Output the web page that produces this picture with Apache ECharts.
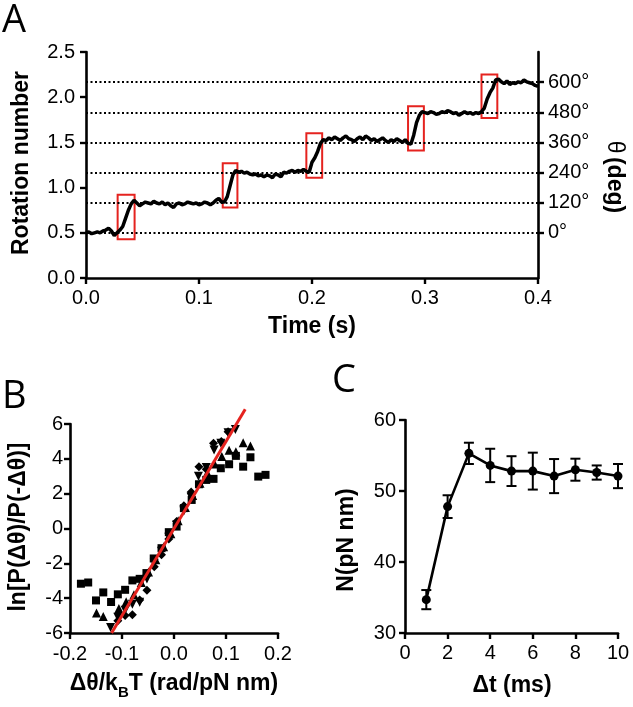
<!DOCTYPE html>
<html><head><meta charset="utf-8">
<script src="https://cdn.jsdelivr.net/npm/echarts@6/dist/echarts.min.js"></script>
<style>html,body{margin:0;padding:0;background:#fff}#c{width:633px;height:707px}</style>
</head><body><div id="c"></div>
<script>
// ---------- Panel A data ----------
const traceStep = 0.0025; // s between samples
const traceRot = [
  0.50,0.51,0.49,0.50,0.51,0.50,0.52,0.53,0.55,0.52,0.47,0.50,0.53,
  0.57,0.66,0.75,0.82,0.86,
  0.83,0.80,0.82,0.84,0.83,0.82,0.85,0.83,0.82,0.84,
  0.81,0.83,0.80,0.78,0.82,0.83,0.81,0.82,0.84,0.83,
  0.82,0.83,0.81,0.82,0.84,0.83,0.81,0.83,0.86,0.88,
  0.84,
  0.84,0.90,1.02,1.14,1.19,
  1.17,1.18,1.16,1.17,1.15,1.14,1.15,1.13,1.14,1.12,
  1.14,1.13,1.11,1.15,1.14,1.12,1.17,1.16,1.18,1.19,
  1.17,1.19,1.18,1.20,1.18,
  1.17,1.28,1.33,1.40,1.49,1.53,
  1.52,1.55,1.53,1.56,1.54,1.52,1.55,1.57,1.54,1.53,
  1.51,1.54,1.56,1.53,1.57,1.55,1.52,1.54,1.51,1.53,
  1.55,1.52,1.50,1.53,1.51,1.54,1.52,1.50,1.53,1.49,
  1.48,1.58,1.72,1.80,1.84,
  1.83,1.82,1.84,1.83,1.81,1.82,1.84,1.83,1.85,1.84,
  1.82,1.83,1.80,1.82,1.84,1.82,1.83,1.81,1.83,1.82,1.84,
  1.88,1.98,2.05,2.10,2.19,
  2.20,2.17,2.15,2.18,2.14,2.16,2.15,2.17,2.16,2.19,2.17,2.16,2.15,2.13,2.12
];
const boxStart = [0.028, 0.121, 0.195, 0.285, 0.350];
const boxEnd   = [0.043, 0.134, 0.209, 0.299, 0.364];
const boxLow   = [0.43, 0.78, 1.11, 1.41, 1.77];
const boxHigh  = [0.92, 1.27, 1.60, 1.90, 2.25];
const thetaTicks = [0, 120, 240, 360, 480, 600];
const rotTicksMax = 2.5;

// ---------- Panel B data ----------
const squares = [[-0.179,-3.17],[-0.165,-3.10],[-0.150,-4.13],[-0.136,-3.67],[-0.121,-4.22],[-0.108,-3.78],
  [-0.094,-3.52],[-0.080,-2.98],[-0.066,-2.89],[-0.053,-2.56],[-0.039,-1.72],[-0.024,-1.13],[-0.010,-0.21],
  [0.005,0.11],[0.019,1.17],[0.034,1.64],[0.048,2.54],[0.062,2.79],[0.076,2.85],[0.090,3.46],[0.106,3.69],
  [0.119,4.17],[0.133,3.55],[0.147,4.09],[0.162,2.98],[0.176,3.08]];
const trianglesUp = [[-0.149,-4.85],[-0.136,-5.05],[-0.106,-4.6],[-0.092,-4.2],[-0.077,-3.8],[-0.063,-3.1],
  [-0.049,-2.5],[-0.035,-1.8],[-0.020,-1.05],[-0.006,-0.3],[0.008,0.45],[0.022,1.2],[0.036,1.9],[0.050,2.6],
  [0.064,3.2],[0.078,3.7],[0.092,4.13],[0.106,4.5],[0.119,4.4],[0.133,4.93],[0.147,4.74]];
const trianglesDown = [[-0.122,-5.68],[-0.108,-5.1],[-0.094,-4.7],[-0.080,-4.35],[-0.066,-4.24],[-0.052,-2.9],
  [-0.038,-2.0],[-0.024,-1.3],[-0.010,-0.5],[0.005,0.2],[0.019,1.0],[0.033,1.8],[0.047,3.0],[0.062,3.5],
  [0.077,4.51],[0.090,4.89],[0.104,5.5],[0.118,5.69]];
const diamonds = [[-0.108,-5.3],[-0.094,-5.0],[-0.080,-4.95],[-0.066,-4.1],[-0.052,-3.55],[-0.038,-2.2],
  [-0.024,-1.5],[-0.010,-0.6],[0.005,0.4],[0.019,1.3],[0.033,2.1],[0.048,3.55],[0.062,3.4],[0.076,4.89],
  [0.091,4.99],[0.104,5.56]];
const fitLine = [[-0.120,-6.0],[0.137,6.85]];

// ---------- Panel C data ----------
const dtMs  = [1, 2, 3, 4, 5, 6, 7, 8, 9, 10];
const nMean = [34.7, 47.8, 55.3, 53.6, 52.8, 52.8, 52.1, 53.0, 52.6, 52.1];
const nErr  = [1.35, 1.6, 1.5, 2.35, 2.1, 2.6, 2.4, 1.55, 1.0, 1.7];

// ---------- styles ----------
const FONT = '"Liberation Sans", Arial, sans-serif';
const AX = {color:'#000', width:2.6};
const tickStyle = {show:true, inside:false, length:6, lineStyle:{color:'#000', width:2.4}};
const lab = (m, fmt) => ({color:'#000', fontFamily:FONT, fontSize:20, margin:m, formatter:fmt});
const RED = '#e5231f';
const markerStyle = {color:'#000', opacity:1};

const chart = echarts.init(document.getElementById('c'), null, {renderer:'canvas'});

const option = {
  animation:false,
  backgroundColor:'#fff',
  grid:[
    {left:86, top:52, width:452, height:226},
    {left:70, top:424, width:208, height:209},
    {left:405, top:420, width:213, height:213}
  ],
  xAxis:[
    {gridIndex:0, type:'value', min:0, max:0.4, interval:0.1, axisLine:{lineStyle:AX}, axisTick:tickStyle,
     splitLine:{show:false}, axisLabel:lab(10, v=>v.toFixed(1))},
    {gridIndex:1, type:'value', min:-0.2, max:0.2, interval:0.1, axisLine:{onZero:false, lineStyle:AX}, axisTick:tickStyle,
     splitLine:{show:false}, axisLabel:lab(11, v=>(Math.abs(v)<1e-9?0:v).toFixed(1))},
    {gridIndex:2, type:'value', min:0, max:10, interval:2, axisLine:{lineStyle:AX}, axisTick:tickStyle,
     splitLine:{show:false}, axisLabel:lab(10)}
  ],
  yAxis:[
    {gridIndex:0, type:'value', min:0, max:rotTicksMax, interval:0.5, position:'left', axisLine:{show:true, lineStyle:AX},
     axisTick:tickStyle, splitLine:{show:false}, axisLabel:lab(11, v=>v.toFixed(1))},
    {gridIndex:0, type:'value', min:-180, max:720, position:'right', axisLine:{show:true, lineStyle:AX},
     axisTick:Object.assign({}, tickStyle, {customValues:thetaTicks}), splitLine:{show:false},
     axisLabel:Object.assign(lab(10, v=>v+'°'), {customValues:thetaTicks})},
    {gridIndex:1, type:'value', min:-6, max:6, interval:2, axisLine:{show:true, onZero:false, lineStyle:AX},
     axisTick:tickStyle, splitLine:{show:false}, axisLabel:lab(7)},
    {gridIndex:2, type:'value', min:30, max:60, interval:10, axisLine:{show:true, lineStyle:AX},
     axisTick:tickStyle, splitLine:{show:false}, axisLabel:lab(9)}
  ],
  series:[
    {type:'line', xAxisIndex:0, yAxisIndex:1, data:[], z:1,
     markLine:{silent:true, symbol:'none', label:{show:false},
       lineStyle:{color:'#000', type:[2,2.5], width:2},
       data:thetaTicks.map(v=>({yAxis:v}))}},
    {type:'line', xAxisIndex:0, yAxisIndex:0, showSymbol:false, z:3,
     data:traceRot.map((v,i)=>[i*traceStep, v]),
     lineStyle:{color:'#000', width:3.5},
     markArea:{silent:true, itemStyle:{color:'rgba(0,0,0,0)', borderColor:RED, borderWidth:2},
       data:boxStart.map((s,i)=>[{coord:[s, boxLow[i]]},{coord:[boxEnd[i], boxHigh[i]]}])}},
    {type:'scatter', xAxisIndex:1, yAxisIndex:2, data:squares, symbol:'rect', symbolSize:8, itemStyle:markerStyle},
    {type:'scatter', xAxisIndex:1, yAxisIndex:2, data:trianglesUp, symbol:'triangle', symbolSize:9, itemStyle:markerStyle},
    {type:'scatter', xAxisIndex:1, yAxisIndex:2, data:trianglesDown, symbol:'triangle', symbolRotate:180, symbolSize:9, itemStyle:markerStyle},
    {type:'scatter', xAxisIndex:1, yAxisIndex:2, data:diamonds, symbol:'diamond', symbolSize:9, itemStyle:markerStyle},
    {type:'line', xAxisIndex:1, yAxisIndex:2, data:fitLine, showSymbol:false, clip:false, z:5,
     lineStyle:{color:RED, width:3}},
    {type:'custom', xAxisIndex:2, yAxisIndex:3, z:3,
     data:dtMs.map((d,i)=>[d, nMean[i]-nErr[i], nMean[i]+nErr[i]]),
     renderItem:(params, api)=>{
       const x = api.value(0);
       const lo = api.coord([x, api.value(1)]);
       const hi = api.coord([x, api.value(2)]);
       const w = 5, st = {stroke:'#000', lineWidth:2};
       return {type:'group', children:[
         {type:'line', shape:{x1:lo[0], y1:lo[1], x2:hi[0], y2:hi[1]}, style:st},
         {type:'line', shape:{x1:lo[0]-w, y1:lo[1], x2:lo[0]+w, y2:lo[1]}, style:st},
         {type:'line', shape:{x1:hi[0]-w, y1:hi[1], x2:hi[0]+w, y2:hi[1]}, style:st}
       ]};
     }},
    {type:'line', xAxisIndex:2, yAxisIndex:3, z:4, data:dtMs.map((d,i)=>[d, nMean[i]]),
     symbol:'circle', symbolSize:9, showSymbol:true, lineStyle:{color:'#000', width:2.6}, itemStyle:markerStyle}
  ],
  graphic:[
    {type:'text', left:2, top:2, style:{text:'A', font:'38px "Open Sans", sans-serif', fill:'#000'}},
    {type:'text', left:2, top:378, style:{text:'B', font:'38px "Open Sans", sans-serif', fill:'#000'}},
    {type:'text', left:332, top:362, style:{text:'C', font:'38px "Open Sans", sans-serif', fill:'#000'}},
    {type:'text', x:22, y:163, rotation:Math.PI/2,
     style:{text:'Rotation number', font:'bold 23px '+FONT, fill:'#000', align:'center', verticalAlign:'middle'}},
    {type:'text', x:312, y:327,
     style:{text:'Time (s)', font:'bold 23px '+FONT, fill:'#000', align:'center', verticalAlign:'middle'}},
    {type:'text', x:614, y:177, rotation:-Math.PI/2,
     style:{text:'{a|θ} {b|(deg)}', align:'center', verticalAlign:'middle', fill:'#000',
       rich:{a:{font:'23px '+FONT, fill:'#000'}, b:{font:'bold 23px '+FONT, fill:'#000'}}}},
    {type:'text', x:19, y:527, rotation:Math.PI/2,
     style:{text:'ln[P(Δθ)/P(-Δθ)]', font:'bold 23px '+FONT, fill:'#000', align:'center', verticalAlign:'middle'}},
    {type:'text', x:174, y:686,
     style:{text:'{m|Δθ/k}{s|B}{m|T (rad/pN nm)}', align:'center', verticalAlign:'middle', fill:'#000',
       rich:{m:{font:'bold 23px '+FONT, fill:'#000', lineHeight:28, verticalAlign:'top'},
             s:{font:'bold 15px '+FONT, fill:'#000', lineHeight:28, verticalAlign:'bottom', padding:[10,0,0,0]}}}},
    {type:'text', x:347, y:540, rotation:Math.PI/2,
     style:{text:'N(pN nm)', font:'bold 23px '+FONT, fill:'#000', align:'center', verticalAlign:'middle'}},
    {type:'text', x:512, y:686,
     style:{text:'Δt (ms)', font:'bold 23px '+FONT, fill:'#000', align:'center', verticalAlign:'middle'}}
  ]
};
chart.setOption(option);
</script></body></html>
